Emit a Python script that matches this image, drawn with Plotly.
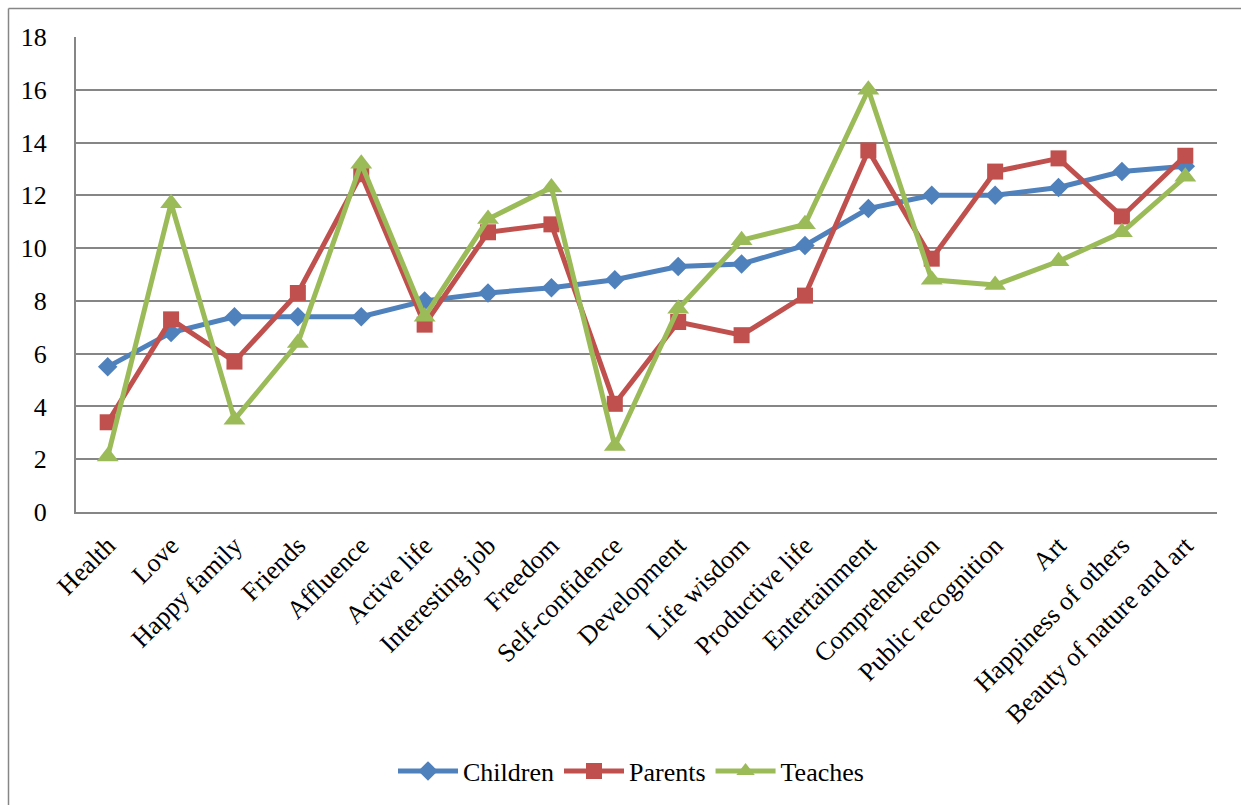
import plotly.graph_objects as go

categories = ["Health", "Love", "Happy family", "Friends", "Affluence", "Active life",
              "Interesting job", "Freedom", "Self-confidence", "Development", "Life wisdom",
              "Productive life", "Entertainment", "Comprehension", "Public recognition",
              "Art", "Happiness of others", "Beauty of nature and art"]
children = [5.5, 6.8, 7.4, 7.4, 7.4, 8.0, 8.3, 8.5, 8.8, 9.3, 9.4, 10.1, 11.5, 12.0, 12.0, 12.3, 12.9, 13.1]
parents = [3.4, 7.3, 5.7, 8.3, 12.8, 7.1, 10.6, 10.9, 4.1, 7.2, 6.7, 8.2, 13.7, 9.6, 12.9, 13.4, 11.2, 13.5]
teaches = [2.1, 11.7, 3.5, 6.4, 13.2, 7.4, 11.1, 12.3, 2.5, 7.7, 10.3, 10.9, 16.0, 8.8, 8.6, 9.5, 10.6, 12.7]
y_ticks = [0, 2, 4, 6, 8, 10, 12, 14, 16, 18]

W, H = 1241, 805
L, R, T, B = 76, 24, 37, 293
pw, ph = W - L - R, H - T - B

def px_x(p):
    return (p - L) / pw

def px_y(p):
    return (H - B - p) / ph

fig = go.Figure()
fig.add_trace(go.Scatter(x=categories, y=children, name="Children", mode="lines+markers",
                         line=dict(color="#4F81BD", width=5),
                         marker=dict(symbol="diamond", size=15, color="#4F81BD")))
fig.add_trace(go.Scatter(x=categories, y=parents, name="Parents", mode="lines+markers",
                         line=dict(color="#C0504D", width=5),
                         marker=dict(symbol="square", size=16, color="#C0504D")))
fig.add_trace(go.Scatter(x=categories, y=teaches, name="Teaches", mode="lines+markers",
                         line=dict(color="#9BBB59", width=5),
                         marker=dict(symbol="triangle-up", size=19, color="#9BBB59")))

font = "Liberation Serif"
fig.update_layout(
    width=W, height=H,
    margin=dict(l=L, r=R, t=T, b=B, autoexpand=False),
    paper_bgcolor="white", plot_bgcolor="white",
    font=dict(family=font, size=26, color="black"),
    showlegend=True,
    legend=dict(orientation="h", x=px_x(631), xanchor="center", y=px_y(771), yanchor="middle",
                font=dict(family=font, size=26, color="black"), itemwidth=60,
                traceorder="normal", tracegroupgap=0),
    xaxis=dict(type="category", tickangle=-45, showgrid=False, showline=True,
               linecolor="#868686", linewidth=2, ticks="", ticklabelstandoff=6,
               range=[-0.5, len(categories) - 0.5],
               tickfont=dict(family=font, size=26, color="black")),
    yaxis=dict(range=[0, 18], tickvals=y_ticks, showgrid=True, gridcolor="#868686",
               gridwidth=1.6, showline=True, linecolor="#868686", linewidth=2,
               ticks="", zeroline=False, ticklabelstandoff=22,
               tickfont=dict(family=font, size=26, color="black")),
    shapes=[
        dict(type="line", xref="paper", yref="paper", x0=px_x(8.5), x1=px_x(W + 5),
             y0=px_y(8.5), y1=px_y(8.5), line=dict(color="#868686", width=1.5)),
        dict(type="line", xref="paper", yref="paper", x0=px_x(8.5), x1=px_x(8.5),
             y0=px_y(8.5), y1=px_y(H + 5), line=dict(color="#868686", width=1.5)),
    ],
)

fig.write_html("out.html")
